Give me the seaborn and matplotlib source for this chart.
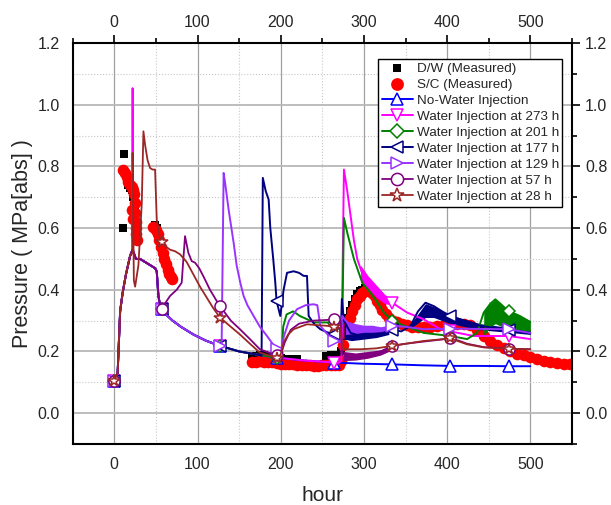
import numpy as np
import pandas as pd
import matplotlib
matplotlib.use('Agg')
import matplotlib.pyplot as plt
import seaborn as sns
from matplotlib.ticker import MultipleLocator

sns.set_style('white')
plt.rcParams['font.family'] = ['Liberation Sans', 'DejaVu Sans']

# hours at which the model curves carry a marker
mark_hours = [0, 57, 127, 195, 264, 334, 404, 474]

# measured data
dw_h = [10.5, 12, 15, 17, 19, 21, 23, 25, 49, 51,
        165, 170, 175, 180, 185, 190, 195, 200, 205, 210, 215, 220,
        255, 260, 265, 270, 273, 275, 277, 280, 283, 286, 289, 292, 295, 298,
        301, 304, 307, 310, 314, 318]
dw_p = [0.60, 0.84, 0.755, 0.74, 0.73, 0.725, 0.70, 0.67, 0.61, 0.60,
        0.183, 0.186, 0.19, 0.19, 0.186, 0.183, 0.18, 0.178, 0.177, 0.176, 0.175, 0.174,
        0.185, 0.188, 0.19, 0.19, 0.20, 0.25, 0.28, 0.31, 0.33, 0.35, 0.37, 0.385, 0.395, 0.40,
        0.405, 0.41, 0.405, 0.40, 0.39, 0.38]

sc_h = [11, 13, 15, 17, 19, 21, 23, 24, 24.5, 25, 25.5, 26, 26.5, 27, 21, 22,
        47, 50, 52, 54, 56, 58, 60, 62, 64, 66, 68, 69,
        165, 170, 175, 180, 185, 190, 195, 200, 205, 210, 215, 220, 225, 230, 235, 240,
        245, 250, 255, 260, 265, 270, 273, 275, 277, 280, 283, 286, 289, 292, 295, 298,
        301, 304, 307, 310, 313, 316, 319, 322, 326, 330, 335, 340, 346, 352, 358, 365,
        372, 380, 388, 396, 404, 412, 420, 428, 436, 444, 452, 460, 468, 476, 484, 492,
        500, 508, 516, 524, 532, 540, 548]
sc_p = [0.79, 0.78, 0.765, 0.75, 0.74, 0.735, 0.725, 0.71, 0.68, 0.65, 0.62, 0.60, 0.58, 0.56, 0.66, 0.63,
        0.605, 0.595, 0.58, 0.56, 0.54, 0.52, 0.50, 0.485, 0.465, 0.45, 0.44, 0.435,
        0.165, 0.166, 0.168, 0.166, 0.165, 0.165, 0.163, 0.16, 0.16, 0.158, 0.158, 0.157, 0.155, 0.155, 0.155, 0.153,
        0.153, 0.155, 0.155, 0.155, 0.155, 0.157, 0.17, 0.22, 0.26, 0.29, 0.31, 0.33, 0.35, 0.37, 0.38, 0.39,
        0.395, 0.40, 0.395, 0.39, 0.38, 0.365, 0.35, 0.335, 0.32, 0.31, 0.30, 0.295, 0.29, 0.285, 0.28, 0.28,
        0.28, 0.28, 0.283, 0.285, 0.288, 0.29, 0.29, 0.285, 0.27, 0.25, 0.235, 0.222, 0.212, 0.20, 0.193, 0.187,
        0.182, 0.175, 0.17, 0.165, 0.162, 0.16, 0.158]

# model: no water injection
nowater_h = [0, 4, 7, 10, 14, 19, 22, 26, 31, 40, 49, 51, 53, 55, 57, 62, 70, 80, 95, 110,
             127, 150, 175, 195, 230, 264, 300, 334, 370, 404, 440, 474, 500]
nowater_p = [0.105, 0.13, 0.33, 0.39, 0.45, 0.51, 0.53, 0.50, 0.50, 0.485, 0.47, 0.46, 0.38, 0.35, 0.337,
             0.32, 0.30, 0.28, 0.255, 0.235, 0.218, 0.20, 0.188, 0.18, 0.17, 0.164, 0.16, 0.158, 0.155,
             0.153, 0.153, 0.152, 0.152]

# water injection at 273 h
w273_h = [0, 4, 7, 10, 14, 19, 21.8, 22, 22.3, 26, 31, 40, 49, 51, 53, 55, 57, 62, 70, 80, 95, 110,
          127, 150, 175, 195, 230, 264, 270, 273, 276, 280, 284, 288, 292, 297, 304, 312, 320, 328,
          334, 352, 372, 392, 404, 432, 474, 500]
w273_p = [0.105, 0.13, 0.33, 0.39, 0.45, 0.51, 0.53, 1.054, 0.53, 0.50, 0.50, 0.485, 0.47, 0.46, 0.38,
          0.35, 0.337, 0.32, 0.30, 0.28, 0.255, 0.235, 0.218, 0.20, 0.188, 0.18, 0.17, 0.164, 0.163,
          0.17, 0.79, 0.72, 0.64, 0.56, 0.50, 0.46, 0.43, 0.415, 0.39, 0.37, 0.358, 0.326, 0.304,
          0.272, 0.265, 0.25, 0.25, 0.24]

# water injection at 201 h
w201_h = [0, 4, 7, 10, 14, 19, 22, 26, 31, 40, 49, 51, 53, 55, 57, 62, 70, 80, 95, 110,
          127, 150, 175, 195, 198, 201, 203, 207, 215, 223, 232, 240, 256, 264, 272, 274, 276, 280,
          288, 298, 308, 316, 324, 334, 344, 372, 404, 424, 436, 444, 452, 458, 466, 474, 487, 500]
w201_p = [0.105, 0.13, 0.33, 0.39, 0.45, 0.51, 0.53, 0.50, 0.50, 0.485, 0.47, 0.46, 0.38, 0.35, 0.337,
          0.32, 0.30, 0.28, 0.255, 0.235, 0.218, 0.20, 0.188, 0.18, 0.178, 0.18, 0.28, 0.32, 0.33,
          0.315, 0.304, 0.294, 0.294, 0.292, 0.29, 0.29, 0.633, 0.585, 0.50, 0.423, 0.39, 0.36, 0.326,
          0.30, 0.288, 0.26, 0.25, 0.24, 0.26, 0.326, 0.355, 0.369, 0.35, 0.33, 0.31, 0.295]

# water injection at 177 h
w177_h = [0, 4, 7, 10, 14, 19, 22, 26, 31, 40, 49, 51, 53, 55, 57, 62, 70, 80, 95, 110,
          127, 150, 175, 177, 178.5, 182, 185.5, 187.5, 191, 193.5, 195, 199.5, 203.5, 207.6, 215.5,
          222, 227.6, 231.6, 233.6, 240, 247.6, 256, 264, 272, 273.5, 276, 284, 296, 308, 320, 334,
          345, 356, 365, 374, 384, 394, 404, 420, 440, 460, 474, 500]
w177_p = [0.105, 0.13, 0.33, 0.39, 0.45, 0.51, 0.53, 0.50, 0.50, 0.485, 0.47, 0.46, 0.38, 0.35, 0.337,
          0.32, 0.30, 0.28, 0.255, 0.235, 0.218, 0.20, 0.188, 0.186, 0.763, 0.72, 0.693, 0.60, 0.50,
          0.423, 0.364, 0.315, 0.40, 0.455, 0.46, 0.455, 0.445, 0.445, 0.315, 0.29, 0.272, 0.262,
          0.256, 0.24, 0.37, 0.30, 0.26, 0.25, 0.25, 0.255, 0.27, 0.265, 0.283, 0.33, 0.358, 0.347,
          0.33, 0.315, 0.30, 0.283, 0.275, 0.27, 0.26]

# water injection at 129 h
w129_h = [0, 4, 7, 10, 14, 19, 22, 26, 31, 40, 49, 51, 53, 55, 57, 62, 70, 80, 95, 110,
          127, 129, 131.4, 133, 137.4, 143.4, 147, 151.4, 155.4, 160, 167.4, 175, 183.5, 195, 200,
          204, 210, 219.6, 230, 239.5, 244, 247.6, 251.6, 258, 264, 272, 274, 278, 284, 290, 300,
          310, 323, 334, 350, 372, 404, 440, 474, 500]
w129_p = [0.105, 0.13, 0.33, 0.39, 0.45, 0.51, 0.53, 0.50, 0.50, 0.485, 0.47, 0.46, 0.38, 0.35, 0.337,
          0.32, 0.30, 0.28, 0.255, 0.235, 0.218, 0.22, 0.779, 0.75, 0.66, 0.553, 0.48, 0.423, 0.38,
          0.35, 0.315, 0.28, 0.25, 0.207, 0.20, 0.25, 0.30, 0.337, 0.35, 0.353, 0.35, 0.283, 0.27,
          0.25, 0.234, 0.23, 0.315, 0.30, 0.285, 0.275, 0.27, 0.27, 0.272, 0.283, 0.28, 0.272,
          0.274, 0.273, 0.272, 0.26]

# water injection at 57 h
w57_h = [0, 4, 7, 10, 14, 19, 22, 26, 31, 40, 49, 51, 53, 55, 57, 62, 67, 71, 75, 81, 83, 85, 89,
         93, 97, 102, 107, 115, 123, 127, 140, 151, 163, 175, 195, 200, 205, 212, 222, 240, 255,
         264, 272, 274, 290, 310, 320, 334, 350, 372, 404, 414, 424, 444, 474, 500]
w57_p = [0.105, 0.13, 0.33, 0.39, 0.45, 0.51, 0.53, 0.50, 0.50, 0.485, 0.47, 0.46, 0.38, 0.35, 0.337,
         0.36, 0.38, 0.39, 0.40, 0.423, 0.50, 0.574, 0.52, 0.493, 0.488, 0.47, 0.444, 0.40, 0.364,
         0.347, 0.30, 0.272, 0.24, 0.207, 0.187, 0.19, 0.23, 0.27, 0.29, 0.30, 0.302, 0.304, 0.30,
         0.19, 0.186, 0.192, 0.20, 0.218, 0.225, 0.232, 0.242, 0.235, 0.225, 0.214, 0.209, 0.207]

# water injection at 28 h
w28_h = [0, 4, 7, 10, 14, 19, 21.7, 22, 23.5, 25, 29, 33, 35, 37, 40, 43, 46, 49, 51, 55, 57, 62,
         67, 73, 79, 87, 95, 103, 111, 119, 127, 140, 151, 163, 175, 195, 200, 203.5, 209, 215.5,
         231.6, 255.6, 264, 272, 274, 280, 296, 315, 334, 372, 404, 424, 444, 474, 500]
w28_p = [0.105, 0.13, 0.33, 0.39, 0.45, 0.51, 0.52, 0.844, 0.43, 0.41, 0.48, 0.68, 0.914, 0.87, 0.82,
         0.795, 0.79, 0.79, 0.628, 0.563, 0.555, 0.54, 0.53, 0.525, 0.515, 0.49, 0.45, 0.41, 0.375,
         0.34, 0.31, 0.28, 0.255, 0.225, 0.196, 0.18, 0.19, 0.229, 0.255, 0.272, 0.288, 0.283, 0.28,
         0.275, 0.21, 0.207, 0.207, 0.21, 0.218, 0.234, 0.242, 0.223, 0.213, 0.209, 0.207]

# oscillation bands (hour, lower, upper)
band_w177a_h = [276, 285, 300, 315, 330]
band_w177a_lo = [0.24, 0.235, 0.24, 0.245, 0.255]
band_w177a_hi = [0.29, 0.275, 0.27, 0.268, 0.272]
band_w177b_h = [356, 374, 384, 404, 440, 474, 500]
band_w177b_lo = [0.275, 0.31, 0.31, 0.29, 0.27, 0.262, 0.255]
band_w177b_hi = [0.288, 0.355, 0.345, 0.318, 0.29, 0.278, 0.27]
band_w201_h = [444, 452, 458, 466, 474, 487, 500]
band_w201_lo = [0.25, 0.28, 0.29, 0.28, 0.275, 0.27, 0.265]
band_w201_hi = [0.33, 0.355, 0.369, 0.35, 0.335, 0.32, 0.30]
band_w129_h = [278, 290, 300, 310, 320, 330]
band_w129_lo = [0.255, 0.258, 0.262, 0.262, 0.264, 0.27]
band_w129_hi = [0.30, 0.29, 0.285, 0.285, 0.28, 0.285]
band_w57_h = [275, 290, 305, 320, 330]
band_w57_lo = [0.17, 0.172, 0.178, 0.188, 0.20]
band_w57_hi = [0.20, 0.195, 0.20, 0.205, 0.215]
band_w273_h = [296, 305, 315, 325, 334]
band_w273_lo = [0.425, 0.405, 0.375, 0.355, 0.35]
band_w273_hi = [0.48, 0.445, 0.415, 0.385, 0.368]

fig = plt.figure(figsize=(6.11, 5.05), dpi=100)
ax = fig.add_axes([0.119, 0.121, 0.817, 0.7935])

# measured points
sns.scatterplot(x=dw_h, y=dw_p, marker='s', color='black', s=34, linewidth=0,
                label='D/W (Measured)', ax=ax, zorder=2)
sns.scatterplot(x=sc_h, y=sc_p, marker='o', color='red', s=70, linewidth=0,
                label='S/C (Measured)', ax=ax, zorder=2)

series = [
    ('No-Water Injection', nowater_h, nowater_p, '#0000ff', '^', 8, 1.4),
    ('Water Injection at 273 h', w273_h, w273_p, '#ff00ff', 'v', 8, 1.4),
    ('Water Injection at 201 h', w201_h, w201_p, '#008000', 'D', 6.5, 1.4),
    ('Water Injection at 177 h', w177_h, w177_p, '#000080', '<', 8, 1.4),
    ('Water Injection at 129 h', w129_h, w129_p, '#9933ff', '>', 8, 1.4),
    ('Water Injection at 57 h', w57_h, w57_p, '#800080', 'o', 8, 1.3),
    ('Water Injection at 28 h', w28_h, w28_p, '#9b2626', '*', 9, 1.3),
]

for label, hh, pp, color, mk, ms, lw in series:
    idx = [i for i, h in enumerate(hh) if h in mark_hours]
    sns.lineplot(x=hh, y=pp, sort=False, estimator=None, color=color, lw=lw,
                 marker=mk, markevery=idx, mfc='white', mec=color, mew=1.1, ms=ms,
                 label=label, ax=ax, zorder=3)

bands = [
    (band_w177a_h, band_w177a_lo, band_w177a_hi, '#000080'),
    (band_w177b_h, band_w177b_lo, band_w177b_hi, '#000080'),
    (band_w201_h, band_w201_lo, band_w201_hi, '#008000'),
    (band_w129_h, band_w129_lo, band_w129_hi, '#9933ff'),
    (band_w57_h, band_w57_lo, band_w57_hi, '#800080'),
    (band_w273_h, band_w273_lo, band_w273_hi, '#ff00ff'),
]
for bh, lo, hi, color in bands:
    ax.fill_between(bh, lo, hi, color=color, lw=0, zorder=2.8)

# axes, ticks and grid
ax.set_xlim(-50, 550)
ax.set_ylim(-0.1, 1.2)
ax.xaxis.set_major_locator(MultipleLocator(100))
ax.xaxis.set_minor_locator(MultipleLocator(50))
ax.yaxis.set_major_locator(MultipleLocator(0.2))
ax.yaxis.set_minor_locator(MultipleLocator(0.1))
ax.yaxis.set_major_formatter(matplotlib.ticker.FormatStrFormatter('%.1f'))
ax.tick_params(which='both', direction='out', top=True, right=True,
               labeltop=True, labelright=True, labelsize=11.5, width=1.2, color='black')
ax.tick_params(which='major', length=6)
ax.tick_params(which='minor', length=3.5)
ax.grid(which='major', axis='x', color='#a0a0a0', lw=0.9, ls='-', zorder=0)
ax.grid(which='major', axis='y', color='#b8b8b8', lw=1.3, ls='-', zorder=0)
ax.grid(which='minor', color='#c8c8c8', lw=0.8, ls=':', zorder=0)
ax.set_axisbelow(True)
for sp in ax.spines.values():
    sp.set_color('black')
    sp.set_linewidth(1.5)

ax.set_xlabel('hour', fontsize=15, labelpad=10)
ax.set_ylabel('Pressure ( MPa[abs] )', fontsize=15.5, labelpad=3)

leg = ax.legend(loc='upper left', bbox_to_anchor=(0.612, 0.961), fontsize=9.7,
                frameon=True, fancybox=False, edgecolor='black', framealpha=1,
                borderpad=0.25, labelspacing=0.27, handlelength=2.3, handletextpad=0.3,
                borderaxespad=0, markerscale=1.1)
leg.get_frame().set_linewidth(1.0)

fig.savefig('out.png', dpi=100)
